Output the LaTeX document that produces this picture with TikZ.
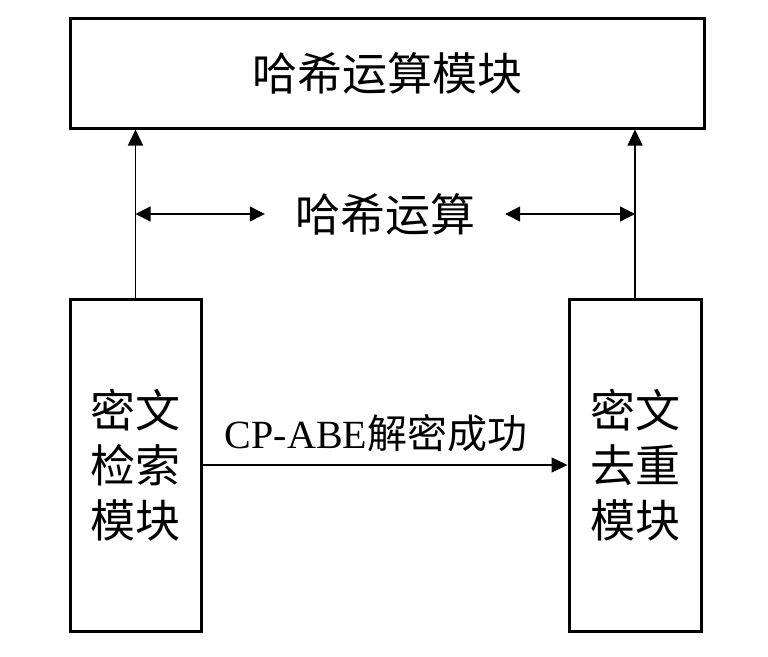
\documentclass[tikz,border=0pt]{standalone}
\usepackage{fontspec}
\newfontfamily\cjk{Noto Sans CJK SC}
\newfontfamily\latin{Liberation Serif}
\usetikzlibrary{arrows.meta}
\begin{document}
\begin{tikzpicture}[x=1pt,y=-1pt,
  box/.style={draw,line width=3pt,inner sep=0pt,align=center,
    font=\cjk\fontsize{45}{55}\selectfont},
  conn/.style={line width=1.2pt,-{Triangle[length=16pt,width=15pt]}},
  biconn/.style={line width=1.2pt,{Triangle[length=15pt,width=15pt]}-{Triangle[length=15pt,width=15pt]}},
  lbl/.style={inner sep=0pt}]
\fill[white] (0,0) rectangle (768,656);
\useasboundingbox (0,0) rectangle (768,656);
\node[box,minimum width=634pt,minimum height=110pt] (top) at (387,73) {哈希运算模块};
\node[box,minimum width=131pt,minimum height=332pt] (L) at (135.5,465) {密文\\检索\\模块};
\node[box,minimum width=132pt,minimum height=332pt] (R) at (635,465) {密文\\去重\\模块};
\node[lbl,inner xsep=30pt,font=\cjk\fontsize{45}{55}\selectfont] (hx) at (385,214) {哈希运算};
\node[lbl,font=\fontsize{40}{48}\selectfont] (cp) at (376,433) {\latin CP-ABE\cjk 解密成功};
\draw[conn] (L.north) -- (L.north |- top.south);
\draw[conn] (R.north) -- (R.north |- top.south);
\draw[biconn] (L.north |- hx.west) -- (hx.west);
\draw[biconn] (hx.east) -- (R.north |- hx.east);
\coordinate (a0) at (L.east |- 0,465);
\draw[conn] (a0) -- (R.west |- a0);
\end{tikzpicture}
\end{document}
